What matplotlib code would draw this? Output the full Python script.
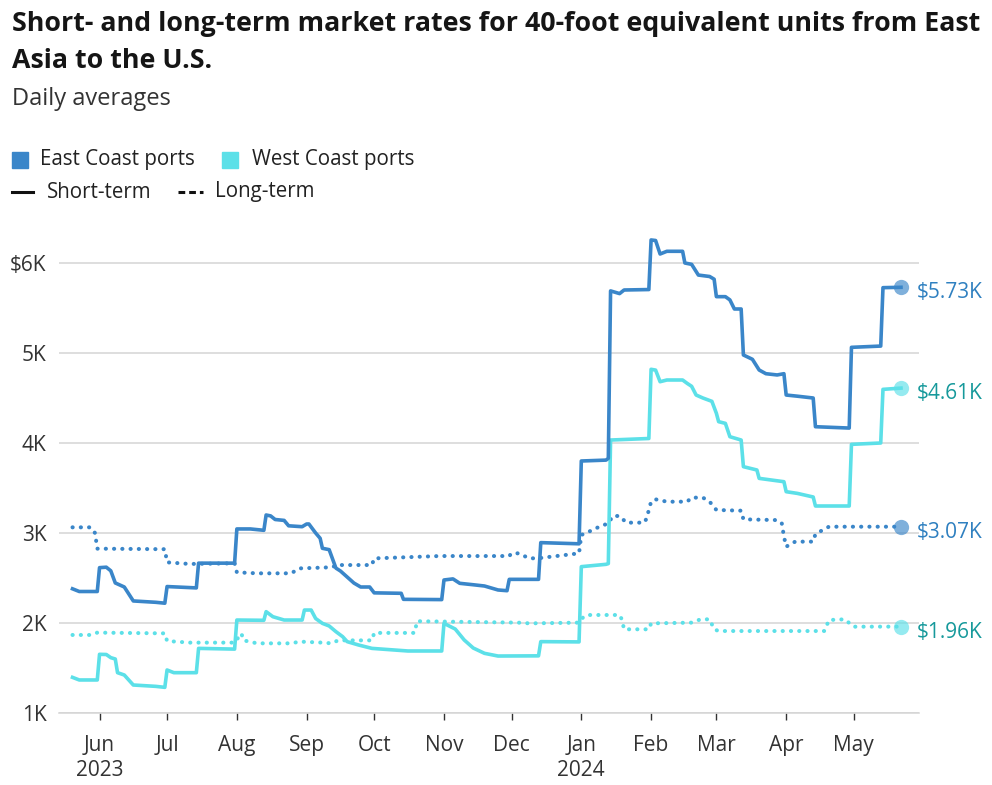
import pandas as pd
import matplotlib.pyplot as plt
from matplotlib.patches import Rectangle
from matplotlib.lines import Line2D

plt.rcParams['font.family'] = ['Open Sans', 'DejaVu Sans']

EAST = "#3a86c9"
WEST = "#5ce0e8"
EAST_TXT = "#2f80c0"
WEST_TXT = "#16999b"

# East Coast, short-term (date, $ per FEU)
ec_short_dates = [
    "2023-05-20", "2023-05-23", "2023-05-31", "2023-06-01", "2023-06-04", "2023-06-06",
    "2023-06-08", "2023-06-12", "2023-06-16", "2023-06-26", "2023-06-30", "2023-07-01",
    "2023-07-14", "2023-07-15", "2023-07-31", "2023-08-01", "2023-08-07", "2023-08-13",
    "2023-08-14", "2023-08-16", "2023-08-18", "2023-08-22", "2023-08-24", "2023-08-30",
    "2023-09-01", "2023-09-02", "2023-09-05", "2023-09-07", "2023-09-08", "2023-09-11",
    "2023-09-14", "2023-09-16", "2023-09-22", "2023-09-25", "2023-09-29", "2023-10-01",
    "2023-10-13", "2023-10-14", "2023-10-31", "2023-11-01", "2023-11-05", "2023-11-08",
    "2023-11-14", "2023-11-19", "2023-11-25", "2023-11-29", "2023-11-30", "2023-12-13",
    "2023-12-14", "2023-12-31", "2024-01-01", "2024-01-12", "2024-01-13", "2024-01-14",
    "2024-01-18", "2024-01-20", "2024-01-31", "2024-02-01", "2024-02-03", "2024-02-05",
    "2024-02-08", "2024-02-15", "2024-02-16", "2024-02-19", "2024-02-22", "2024-02-27",
    "2024-02-29", "2024-03-01", "2024-03-05", "2024-03-07", "2024-03-09", "2024-03-12",
    "2024-03-13", "2024-03-17", "2024-03-20", "2024-03-23", "2024-03-28", "2024-03-31",
    "2024-04-01", "2024-04-06", "2024-04-13", "2024-04-14", "2024-04-29", "2024-04-30",
    "2024-05-13", "2024-05-14", "2024-05-22",
]
ec_short_vals = [
    2380, 2350, 2350, 2615, 2620, 2580,
    2445, 2400, 2245, 2230, 2220, 2405,
    2390, 2665, 2665, 3045, 3045, 3030,
    3200, 3190, 3150, 3140, 3080, 3070,
    3100, 3100, 3000, 2941, 2830, 2815,
    2610, 2578, 2444, 2400, 2400, 2335,
    2330, 2263, 2260, 2478, 2490, 2441,
    2425, 2411, 2367, 2359, 2485, 2485,
    2893, 2880, 3800, 3810, 3830, 5690,
    5660, 5700, 5705, 6256, 6250, 6100,
    6130, 6130, 6000, 5985, 5866, 5850,
    5820, 5626, 5626, 5590, 5489, 5489,
    4978, 4930, 4811, 4770, 4756, 4770,
    4533, 4520, 4500, 4181, 4166, 5063,
    5077, 5726, 5730,
]

# West Coast, short-term
wc_short_dates = [
    "2023-05-20", "2023-05-23", "2023-05-31", "2023-06-01", "2023-06-04", "2023-06-06",
    "2023-06-08", "2023-06-09", "2023-06-12", "2023-06-16", "2023-06-26", "2023-06-30",
    "2023-07-01", "2023-07-04", "2023-07-14", "2023-07-15", "2023-07-31", "2023-08-01",
    "2023-08-13", "2023-08-14", "2023-08-17", "2023-08-22", "2023-08-30", "2023-08-31",
    "2023-09-03", "2023-09-05", "2023-09-08", "2023-09-11", "2023-09-14", "2023-09-17",
    "2023-09-19", "2023-09-24", "2023-09-30", "2023-10-16", "2023-10-31", "2023-11-01",
    "2023-11-06", "2023-11-10", "2023-11-14", "2023-11-19", "2023-11-25", "2023-12-13",
    "2023-12-14", "2023-12-31", "2024-01-01", "2024-01-12", "2024-01-13", "2024-01-14",
    "2024-01-31", "2024-02-01", "2024-02-03", "2024-02-05", "2024-02-08", "2024-02-15",
    "2024-02-17", "2024-02-19", "2024-02-21", "2024-02-24", "2024-02-28", "2024-03-01",
    "2024-03-02", "2024-03-05", "2024-03-07", "2024-03-12", "2024-03-13", "2024-03-19",
    "2024-03-20", "2024-03-28", "2024-03-31", "2024-04-01", "2024-04-06", "2024-04-13",
    "2024-04-14", "2024-04-29", "2024-04-30", "2024-05-13", "2024-05-14", "2024-05-22",
]
wc_short_vals = [
    1396, 1367, 1367, 1652, 1650, 1615,
    1600, 1448, 1422, 1311, 1296, 1285,
    1478, 1448, 1448, 1718, 1710, 2033,
    2030, 2126, 2070, 2033, 2033, 2144,
    2144, 2050, 1996, 1967, 1904, 1848,
    1793, 1756, 1718, 1689, 1689, 1996,
    1933, 1811, 1722, 1663, 1633, 1635,
    1793, 1790, 2626, 2652, 2660, 4033,
    4050, 4819, 4810, 4681, 4700, 4700,
    4663, 4630, 4533, 4500, 4463, 4330,
    4237, 4218, 4070, 4033, 3737, 3700,
    3607, 3580, 3570, 3459, 3440, 3400,
    3300, 3300, 3985, 4000, 4596, 4610,
]

# East Coast, long-term
ec_long_dates = [
    "2023-05-20", "2023-05-28", "2023-05-30", "2023-05-31", "2023-06-30", "2023-07-01",
    "2023-07-11", "2023-07-31", "2023-08-01", "2023-08-10", "2023-08-25", "2023-08-29",
    "2023-09-12", "2023-09-15", "2023-09-30", "2023-10-01", "2023-10-30", "2023-11-30",
    "2023-12-01", "2023-12-04", "2023-12-09", "2023-12-13", "2023-12-31", "2024-01-01",
    "2024-01-06", "2024-01-09", "2024-01-13", "2024-01-15", "2024-01-18", "2024-01-21",
    "2024-01-29", "2024-01-30", "2024-02-01", "2024-02-03", "2024-02-08", "2024-02-17",
    "2024-02-19", "2024-02-24", "2024-02-27", "2024-03-01", "2024-03-12", "2024-03-13",
    "2024-03-27", "2024-03-30", "2024-03-31", "2024-04-01", "2024-04-05", "2024-04-13",
    "2024-04-14", "2024-04-20", "2024-05-22",
]
ec_long_vals = [
    3063, 3063, 3000, 2826, 2820, 2674,
    2656, 2663, 2563, 2552, 2552, 2607,
    2619, 2644, 2644, 2718, 2744, 2744,
    2774, 2774, 2718, 2720, 2774, 2978,
    3033, 3070, 3107, 3189, 3189, 3115,
    3115, 3163, 3348, 3374, 3348, 3348,
    3393, 3393, 3348, 3256, 3248, 3152,
    3144, 3115, 2963, 2848, 2904, 2904,
    2989, 3070, 3070,
]

# West Coast, long-term
wc_long_dates = [
    "2023-05-20", "2023-05-28", "2023-05-31", "2023-06-30", "2023-07-01", "2023-07-11",
    "2023-07-31", "2023-08-03", "2023-08-04", "2023-08-10", "2023-08-25", "2023-08-29",
    "2023-09-08", "2023-09-12", "2023-09-15", "2023-09-30", "2023-10-01", "2023-10-19",
    "2023-10-20", "2023-12-04", "2023-12-09", "2023-12-31", "2024-01-02", "2024-01-04",
    "2024-01-18", "2024-01-19", "2024-01-20", "2024-01-31", "2024-02-01", "2024-02-19",
    "2024-02-23", "2024-02-27", "2024-02-29", "2024-03-02", "2024-04-18", "2024-04-20",
    "2024-04-27", "2024-05-01", "2024-05-22",
]
wc_long_vals = [
    1867, 1867, 1893, 1885, 1800, 1782,
    1782, 1885, 1807, 1774, 1774, 1793,
    1782, 1774, 1807, 1807, 1890, 1890,
    2020, 2004, 1996, 2004, 2070, 2089,
    2089, 2040, 1930, 1930, 1996, 2004,
    2041, 2041, 1930, 1911, 1911, 2033,
    2041, 1959, 1960,
]

end_labels = ["$5.73K", "$4.61K", "$3.07K", "$1.96K"]
y_ticks = [1000, 2000, 3000, 4000, 5000, 6000]
y_tick_labels = ["1K", "2K", "3K", "4K", "5K", "$6K"]

W, H = 992, 785
fig = plt.figure(figsize=(W / 100, H / 100), dpi=100)


def fx(px):
    return px / W


def fy(py):
    return 1 - py / H


ax = fig.add_axes([fx(59), fy(713), fx(919) - fx(59), fy(236) - fy(713)])

series = [
    (wc_long_dates, wc_long_vals, WEST, "dot", WEST_TXT, end_labels[3]),
    (ec_long_dates, ec_long_vals, EAST, "dot", EAST_TXT, end_labels[2]),
    (wc_short_dates, wc_short_vals, WEST, "solid", WEST_TXT, end_labels[1]),
    (ec_short_dates, ec_short_vals, EAST, "solid", EAST_TXT, end_labels[0]),
]
for dates, vals, col, style, tcol, lab in series:
    d = pd.to_datetime(dates)
    if style == "solid":
        ax.plot(d, vals, color=col, lw=2.6, solid_joinstyle="round", zorder=3)
    else:
        ax.plot(d, vals, color=col, lw=2.9, linestyle=(0, (0.05, 2.0)),
                dash_capstyle="round", zorder=3)
    ax.plot(d[-1], vals[-1], "o", color=col, ms=11, alpha=0.65, mec="none", zorder=4)
    ax.annotate(lab, (d[-1], vals[-1]), xytext=(11, -4), textcoords="offset points",
                va="center", ha="left", fontsize=15, color=tcol, annotation_clip=False)

ax.set_xlim(pd.Timestamp("2023-05-14"), pd.Timestamp("2024-05-30"))
ax.set_ylim(1000, 6300)

ax.set_yticks(y_ticks)
ax.set_yticklabels(y_tick_labels)
ax.grid(axis="y", color="#d4d4d4", lw=1.1)
ax.set_axisbelow(True)
for s in ["top", "right", "left"]:
    ax.spines[s].set_visible(False)
ax.spines["bottom"].set_color("#d4d4d4")
ax.spines["bottom"].set_linewidth(1.1)
ax.tick_params(axis="y", length=0, pad=9, labelsize=15, labelcolor="#333333")

months = pd.date_range("2023-06-01", "2024-05-01", freq="MS")
ax.set_xticks(months)
ax.set_xticklabels([m.strftime("%b") + ("\n" + str(m.year) if m.month in (6, 1) else "")
                    for m in months], linespacing=1.25)
ax.tick_params(axis="x", length=5, width=1, color="#333333", pad=11,
               labelsize=15, labelcolor="#333333")

# title block
fig.text(fx(12), fy(31), "Short- and long-term market rates for 40-foot equivalent units from East",
         fontsize=19.3, fontweight="bold", color="#151515", va="baseline")
fig.text(fx(12), fy(68), "Asia to the U.S.",
         fontsize=19.3, fontweight="bold", color="#151515", va="baseline")
fig.text(fx(12), fy(105), "Daily averages", fontsize=17, color="#333333", va="baseline")

# legend
fig.add_artist(Rectangle((fx(12), fy(168)), fx(16), fy(152) - fy(168), color=EAST,
                         transform=fig.transFigure))
fig.text(fx(40), fy(160), "East Coast ports", fontsize=14.8, color="#222222", va="center")
fig.add_artist(Rectangle((fx(222), fy(168)), fx(16), fy(152) - fy(168), color=WEST,
                         transform=fig.transFigure))
fig.text(fx(252), fy(160), "West Coast ports", fontsize=14.8, color="#222222", va="center")
fig.add_artist(Line2D([fx(12), fx(33)], [fy(192), fy(192)], color="#111111", lw=2.2,
                      transform=fig.transFigure))
fig.text(fx(47), fy(192), "Short-term", fontsize=14.8, color="#222222", va="center")
fig.add_artist(Line2D([fx(178), fx(203)], [fy(192), fy(192)], color="#111111", lw=2.2,
                      linestyle=(0, (2.2, 1.3)), transform=fig.transFigure))
fig.text(fx(215), fy(192), "Long-term", fontsize=14.8, color="#222222", va="center")

plt.savefig("out.png", dpi=100)
